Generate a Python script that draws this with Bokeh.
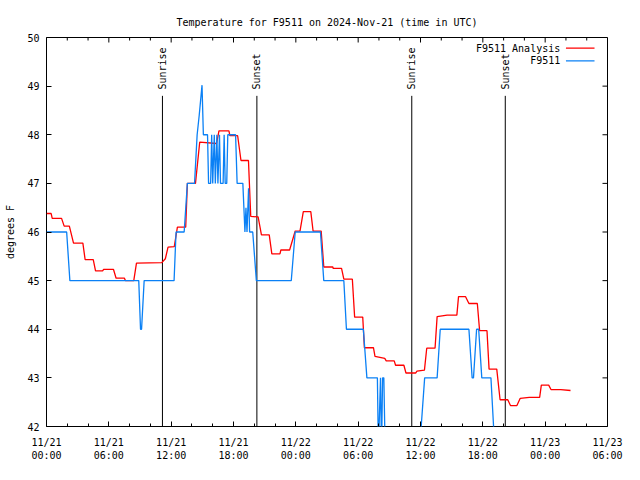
import math
from bokeh.plotting import figure
from bokeh.models import FixedTicker, Range1d
from bokeh.embed import file_html
from bokeh.resources import INLINE
from bokeh.core.properties import value

# hours since 2024-11-21 00:00 UTC
analysis_hours = [0.0, 0.45, 0.55, 1.45, 1.7, 2.2, 2.6, 3.5, 3.72, 4.5, 4.72, 5.4, 5.5, 6.45, 6.7,
                  7.5, 7.6, 8.4, 8.66, 11.1, 11.44, 11.7, 12.3, 12.6, 13.4, 13.56, 14.34, 14.75,
                  16.37, 16.6, 17.56, 17.65, 18.4, 18.72, 19.44, 19.66, 20.37, 20.69, 21.44, 21.69,
                  22.47, 22.56, 23.4, 23.94, 24.4, 24.72, 25.44, 25.66, 26.44, 26.69, 27.56, 27.6,
                  28.4, 28.62, 29.44, 29.66, 30.44, 30.6, 31.47, 31.62, 32.56, 32.7, 33.47, 33.6,
                  34.4, 34.6, 35.53, 35.66, 36.38, 36.6, 37.4, 37.6, 38.56, 39.5, 39.66, 40.34,
                  40.66, 41.47, 41.69, 42.4, 42.6, 43.34, 43.66, 44.4, 44.66, 45.28, 45.6, 46.47,
                  47.47, 47.63, 48.34, 48.56, 49.5, 50.44]
analysis_temp = [46.38, 46.38, 46.28, 46.28, 46.12, 46.12, 45.77, 45.77, 45.43, 45.43, 45.2, 45.2,
                 45.23, 45.23, 45.05, 45.05, 45.0, 45.0, 45.36, 45.37, 45.45, 45.69, 45.7, 46.1,
                 46.1, 47.0, 47.0, 47.85, 47.82, 48.08, 48.08, 47.98, 47.98, 47.47, 47.47, 46.32,
                 46.31, 45.94, 45.94, 45.55, 45.55, 45.63, 45.63, 46.02, 46.02, 46.42, 46.42, 46.02,
                 46.02, 45.28, 45.28, 45.25, 45.25, 45.03, 45.03, 44.25, 44.25, 43.62, 43.62, 43.44,
                 43.4, 43.35, 43.35, 43.26, 43.26, 43.1, 43.1, 43.14, 43.16, 43.61, 43.61, 44.26,
                 44.29, 44.29, 44.67, 44.67, 44.53, 44.53, 43.97, 43.97, 43.18, 43.18, 42.55, 42.55,
                 42.43, 42.43, 42.58, 42.6, 42.6, 42.85, 42.85, 42.76, 42.76, 42.74]

obs_hours = [0.0, 1.94, 2.25, 8.88, 9.05, 9.15, 9.4, 12.28, 12.47, 13.25, 13.56, 14.25, 14.5, 14.7,
             14.97, 15.1, 15.5, 15.6, 15.8, 15.9, 16.0, 16.15, 16.25, 16.4, 16.5, 16.65, 16.75,
             17.0, 17.1, 17.2, 17.35, 17.45, 18.2, 18.35, 18.9, 19.0, 19.1, 19.2, 19.3, 19.45,
             19.55, 19.85, 20.2, 23.56, 23.94, 26.37, 26.69, 28.62, 28.87, 30.5, 30.84, 31.85,
             31.95, 32.15, 32.25, 32.35, 32.47, 32.6, 35.9, 36.4, 37.6, 37.9, 40.66, 40.97, 41.1,
             41.4, 41.6, 41.9, 42.78, 43.16]
obs_temp = [46.0, 46.0, 45.0, 45.0, 44.0, 44.0, 45.0, 45.0, 46.0, 46.0, 47.0, 47.0, 48.0, 48.4,
            49.02, 48.0, 48.0, 47.0, 47.0, 48.0, 47.0, 48.0, 47.0, 48.0, 47.0, 48.0, 47.0,
            47.0, 48.0, 47.0, 47.0, 48.0, 48.0, 47.0, 47.0, 46.5, 46.0, 46.5, 46.0, 46.9,
            46.0, 46.0, 45.0, 45.0, 46.0, 46.0, 45.0, 45.0, 44.0, 44.0, 43.0, 43.0,
            41.5, 43.0, 41.5, 43.0, 43.0, 41.5, 41.5, 43.0, 43.0, 44.0, 44.0, 43.0, 43.0,
            44.0, 44.0, 43.0, 43.0, 41.5]

sun_hours = [11.16, 20.25, 35.16, 44.16]
sun_labels = ["Sunrise", "Sunset", "Sunrise", "Sunset"]

x_ticks = [0, 6, 12, 18, 24, 30, 36, 42, 48, 54]
x_tick_labels = ["11/21\n00:00", "11/21\n06:00", "11/21\n12:00", "11/21\n18:00",
                 "11/22\n00:00", "11/22\n06:00", "11/22\n12:00", "11/22\n18:00",
                 "11/23\n00:00", "11/23\n06:00"]
x_minor = [h for h in range(0, 55, 2) if h % 6 != 0]
y_ticks = [42, 43, 44, 45, 46, 47, 48, 49, 50]

series_names = ["F9511 Analysis", "F9511"]
RED = "#ff0000"
BLUE = "#0a80f5"
FONT = "DejaVu Sans Mono"
FS = "10px"

X0, X1, Y0, Y1 = 0, 54, 42, 50
W, H = 624, 464
BL, BR, BT, BB = 46, 17, 37, 38
px_x = (X1 - X0) / (W - BL - BR)   # hours per pixel
px_y = (Y1 - Y0) / (H - BT - BB)   # degrees per pixel

p = figure(width=W, height=H, output_backend="svg", toolbar_location=None,
           x_range=Range1d(X0, X1), y_range=Range1d(Y0, Y1),
           min_border_left=BL, min_border_right=BR, min_border_top=BT, min_border_bottom=BB,
           title="Temperature for F9511 on 2024-Nov-21 (time in UTC)")
p.title.align = "center"
p.title.text_font = FONT
p.title.text_font_size = FS
p.title.text_font_style = "normal"
p.title.text_color = "black"
p.title.standoff = 20
p.grid.visible = False
p.outline_line_color = "black"
p.outline_line_width = 1
p.background_fill_color = "white"
p.border_fill_color = "white"

xa = p.xaxis[0]
xa.ticker = FixedTicker(ticks=x_ticks, minor_ticks=x_minor)
xa.major_label_overrides = {t: l for t, l in zip(x_ticks, x_tick_labels)}
ya = p.yaxis[0]
ya.ticker = FixedTicker(ticks=y_ticks)
ya.axis_label = "degrees F"
ya.axis_label_text_font_style = "normal"
ya.axis_label_text_color = "black"
ya.axis_label_standoff = 8

for ax in (xa, ya):
    ax.axis_line_color = None
    ax.major_tick_in = 5
    ax.major_tick_out = 0
    ax.minor_tick_in = 3
    ax.minor_tick_out = 0
    ax.major_tick_line_color = "black"
    ax.minor_tick_line_color = "black"
    ax.major_label_text_font = FONT
    ax.major_label_text_font_size = FS
    ax.major_label_text_color = "black"
    ax.axis_label_text_font = FONT
    ax.axis_label_text_font_size = FS
ya.minor_tick_line_color = None
xa.major_label_standoff = 10
ya.major_label_standoff = 7

# mirrored inward ticks on the top and right borders
p.segment(x0=x_ticks, y0=[Y1] * len(x_ticks), x1=x_ticks, y1=[Y1 - 5 * px_y] * len(x_ticks),
          line_color="black", line_width=1)
p.segment(x0=x_minor, y0=[Y1] * len(x_minor), x1=x_minor, y1=[Y1 - 3 * px_y] * len(x_minor),
          line_color="black", line_width=1)
p.segment(x0=[X1] * len(y_ticks), y0=y_ticks, x1=[X1 - 5 * px_x] * len(y_ticks), y1=y_ticks,
          line_color="black", line_width=1)

# sunrise / sunset markers
p.segment(x0=sun_hours, y0=[Y0] * 4, x1=sun_hours, y1=[48.8] * 4, line_color="black", line_width=1)
p.text(x=sun_hours, y=[48.93] * 4, text=sun_labels, angle=math.pi / 2, text_align="left",
       text_baseline="middle", text_font=value(FONT), text_font_size=FS, text_color="black")

p.line(analysis_hours, analysis_temp, line_color=RED, line_width=1.3)
p.line(obs_hours, obs_temp, line_color=BLUE, line_width=1.3)

# key (text on the left of the sample line)
p.text(x=[49.45, 49.45], y=[49.78, 49.52], text=series_names, text_align="right",
       text_baseline="middle", text_font=value(FONT), text_font_size=FS, text_color="black")
p.segment(x0=[50.0, 50.0], y0=[49.78, 49.52], x1=[52.75, 52.75], y1=[49.78, 49.52],
          line_color=[RED, BLUE], line_width=1.3)

open("out.html", "w").write(file_html(p, INLINE))
